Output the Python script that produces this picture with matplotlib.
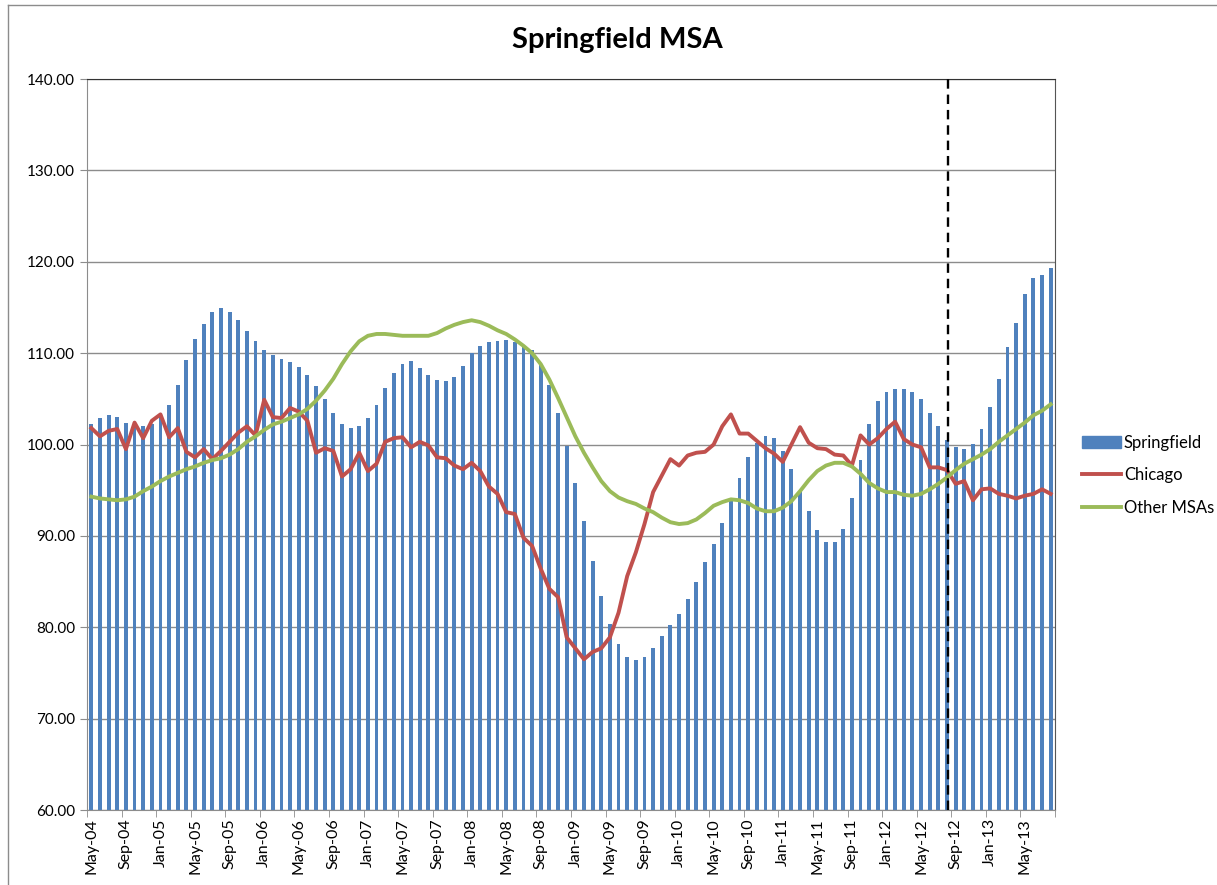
import numpy as np
import pandas as pd
import matplotlib
matplotlib.use('Agg')
import matplotlib.pyplot as plt
from matplotlib.lines import Line2D
from matplotlib.patches import Patch

plt.rcParams['font.family'] = ['Lato', 'DejaVu Sans']

months = pd.date_range('2004-05-01', periods=112, freq='MS').strftime('%b-%y').tolist()

springfield = [
    102.3, 102.9, 103.2, 103.0, 102.4, 102.3, 102.0, 102.3, 103.2, 104.3,
    106.5, 109.3, 111.5, 113.2, 114.5, 114.9, 114.5, 113.6, 112.4, 111.3,
    110.4, 109.8, 109.4, 109.0, 108.5, 107.6, 106.4, 105.0, 103.5, 102.3,
    101.8, 102.0, 102.9, 104.3, 106.2, 107.8, 108.8, 109.1, 108.4, 107.6,
    107.1, 106.9, 107.4, 108.6, 110.0, 110.8, 111.2, 111.3, 111.4, 111.2,
    110.7, 110.3, 108.7, 106.5, 103.4, 99.8, 95.8, 91.6, 87.3, 83.4,
    80.4, 78.2, 76.8, 76.4, 76.8, 77.7, 79.1, 80.3, 81.5, 83.1,
    85.0, 87.1, 89.1, 91.4, 93.8, 96.3, 98.6, 100.2, 100.9, 100.7,
    99.3, 97.3, 94.9, 92.7, 90.6, 89.3, 89.3, 90.8, 94.2, 98.3,
    102.2, 104.8, 105.8, 106.1, 106.1, 105.8, 105.0, 103.5, 102.0, 100.5,
    99.7, 99.5, 100.1, 101.7, 104.1, 107.2, 110.7, 113.3, 116.5, 118.2,
    118.5, 119.3,
]

chicago = [
    101.8, 100.9, 101.5, 101.7, 99.5, 102.4, 100.7, 102.6, 103.3, 100.8,
    101.8, 99.2, 98.6, 99.5, 98.4, 99.3, 100.3, 101.3, 102.0, 101.0,
    104.9, 103.0, 102.9, 104.0, 103.6, 102.6, 99.1, 99.6, 99.3, 96.5,
    97.3, 99.1, 97.1, 97.9, 100.3, 100.7, 100.8, 99.7, 100.3, 99.9,
    98.6, 98.5, 97.7, 97.3, 98.0, 97.1, 95.4, 94.6, 92.6, 92.4,
    89.8, 88.9, 86.4, 84.2, 83.3, 78.9, 77.7, 76.5, 77.3, 77.7,
    78.9, 81.6, 85.6, 88.2, 91.3, 94.8, 96.6, 98.4, 97.7, 98.8,
    99.1, 99.2, 100.0, 102.0, 103.3, 101.2, 101.2, 100.4, 99.6, 99.0,
    98.1, 100.0, 101.9, 100.2, 99.6, 99.5, 98.9, 98.8, 97.7, 101.0,
    100.0, 100.7, 101.7, 102.5, 100.6, 100.0, 99.7, 97.5, 97.5, 97.2,
    95.7, 96.0, 93.9, 95.1, 95.2, 94.6, 94.4, 94.1, 94.4, 94.6,
    95.1, 94.6,
]

other_msas = [
    94.3, 94.1, 94.0, 93.9, 94.0, 94.3, 94.9, 95.4, 96.0, 96.5,
    96.9, 97.3, 97.6, 98.0, 98.3, 98.5, 98.9, 99.5, 100.3, 100.9,
    101.6, 102.2, 102.5, 102.9, 103.3, 103.9, 104.8, 105.9, 107.2, 108.8,
    110.2, 111.3, 111.9, 112.1, 112.1, 112.0, 111.9, 111.9, 111.9, 111.9,
    112.2, 112.7, 113.1, 113.4, 113.6, 113.4, 113.0, 112.5, 112.1, 111.5,
    110.8, 110.0, 108.8, 107.1, 105.1, 103.0, 100.9, 99.1, 97.5, 96.0,
    94.9, 94.2, 93.8, 93.5, 93.0, 92.6, 92.0, 91.5, 91.3, 91.4,
    91.8, 92.5, 93.3, 93.7, 94.0, 93.9, 93.6, 93.0, 92.7, 92.7,
    93.1, 93.8, 94.9, 96.1, 97.1, 97.7, 98.0, 98.0, 97.6, 96.8,
    95.8, 95.2, 94.8, 94.8, 94.5, 94.4, 94.6, 95.1, 95.7, 96.4,
    97.2, 97.9, 98.4, 98.9, 99.5, 100.3, 101.0, 101.7, 102.4, 103.2,
    103.7, 104.4,
]

forecast_month = 'Aug-12'

x = np.arange(len(months))

fig = plt.figure(figsize=(12.17, 8.85), dpi=100)
ax = fig.add_axes([0.0715, 0.0847, 0.7954, 0.826])

ax.bar(x, springfield, width=0.45, color='#4F81BD', zorder=2)
ax.plot(x, chicago, color='#C0504D', lw=2.8, zorder=3, solid_joinstyle='round')
ax.plot(x, other_msas, color='#9BBB59', lw=2.8, zorder=3, solid_joinstyle='round')
ax.axvline(months.index(forecast_month) + 0.15, color='black', lw=1.7,
           ls=(0, (4, 2.5)), zorder=4)

ax.set_xlim(-0.5, len(months) - 0.5)
ax.set_ylim(60, 140)
ax.set_yticks(np.arange(60, 141, 10))
ax.set_yticklabels([f'{v:.2f}' for v in range(60, 141, 10)], fontsize=11)
ax.yaxis.grid(True, color='#8c8c8c', lw=1)
ax.set_axisbelow(True)

# labels at category centres, tick marks on the boundaries
ax.set_xticks(x[::4])
ax.set_xticklabels(months[::4], rotation=90, fontsize=11.5)
ax.tick_params(axis='x', which='major', length=0, pad=6)
ax.set_xticks(np.arange(-0.5, len(months), 4), minor=True)
ax.tick_params(axis='x', which='minor', length=5, color='#8c8c8c')
ax.tick_params(axis='y', length=5, color='#8c8c8c')

for side in ['left', 'bottom']:
    ax.spines[side].set_color('#8c8c8c')
ax.spines['top'].set_color('#333333')
ax.spines['right'].set_color('#555555')

fig.text(0.507, 0.955, 'Springfield MSA', ha='center', va='center',
         fontsize=21, fontweight='bold')

handles = [Patch(color='#4F81BD'),
           Line2D([], [], color='#C0504D', lw=2.8),
           Line2D([], [], color='#9BBB59', lw=2.8)]
fig.legend(handles, ['Springfield', 'Chicago', 'Other MSAs'],
           loc='center left', bbox_to_anchor=(0.877, 0.463), frameon=False,
           fontsize=12, handlelength=2.3, handletextpad=0.2, labelspacing=1.0)

# chart-area border
fig.add_artist(Line2D([0.0066, 0.0066], [0, 0.9944], color='#8c8c8c', lw=1))
fig.add_artist(Line2D([0.0066, 1], [0.9944, 0.9944], color='#8c8c8c', lw=1))

fig.savefig('out.png', dpi=100)
